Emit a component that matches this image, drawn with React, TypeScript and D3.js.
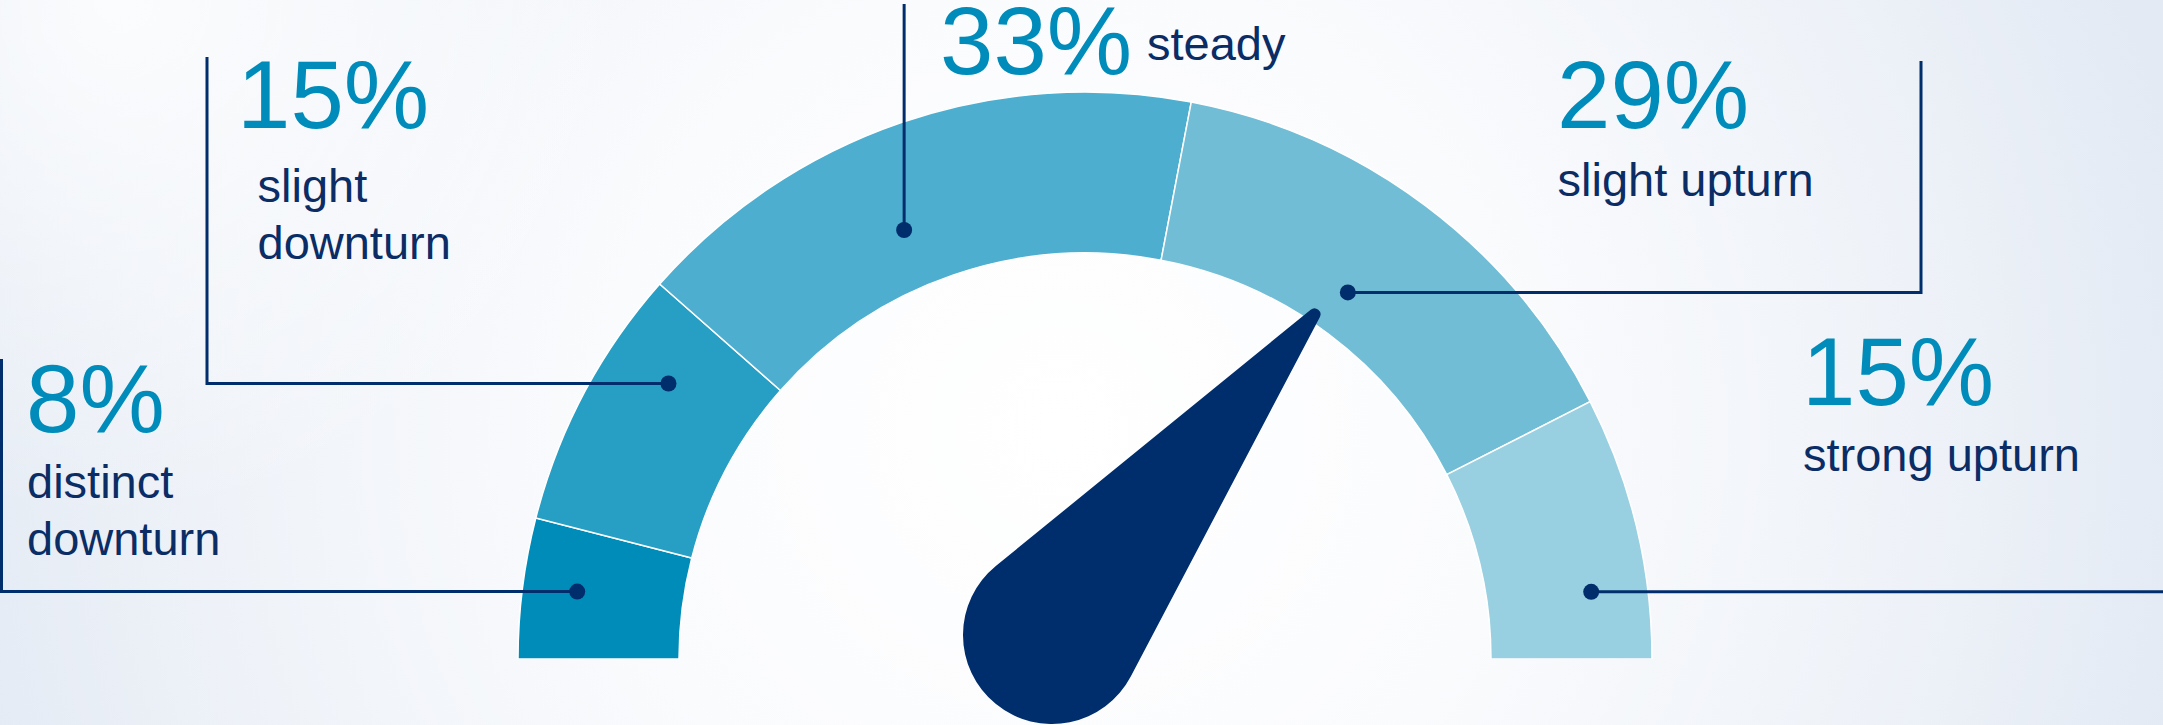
import { useMemo } from "react"
import * as d3 from "d3"

// gauge data
const categories = ["distinct downturn", "slight downturn", "steady", "slight upturn", "strong upturn"]
const shares = [8, 15, 33, 29, 15]
const shareLabels = ["8%", "15%", "33%", "29%", "15%"]
const segmentColors = ["#008cb8", "#279ec3", "#4eaecf", "#72bdd6", "#98cfe1"]

// where each leader line touches the gauge: position on the 0-100 scale and depth into the band (0 = inner, 1 = outer)
const anchorValues = [4.2, 18.6, 37.3, 69.8, 95.8]
const anchorDepths = [0.66, 0.58, 0.37, 0.28, 0.65]

// needle reading on the 0-100 scale
const needleValue = 68.7

const W = 2163
const H = 725
const cx = 1085
const cy = 659
const outerR = 567
const innerR = 406

const NAVY = "#002d6b"
const TEAL = "#008cba"
const LABEL = "#0b2d66"
const FONT = "'Liberation Sans', Arial, Helvetica, sans-serif"

// label layout (leader elbows + text blocks)
const layout = [
  { elbowX: 1.5, elbowY: 359, numX: 26, numY: 432, textX: 27, textY: 498, lines: ["distinct", "downturn"] },
  { elbowX: 207, elbowY: 57, numX: 237, numY: 128, textX: 257.5, textY: 202, lines: ["slight", "downturn"] },
  { elbowX: null, elbowY: 4, numX: 940, numY: 74, textX: 1147, textY: 60, lines: ["steady"] },
  { elbowX: 1921, elbowY: 61, numX: 1557, numY: 128, textX: 1557.5, textY: 196, lines: ["slight upturn"] },
  { elbowX: 2170, elbowY: null, numX: 1802, numY: 405, textX: 1803, textY: 471, lines: ["strong upturn"] },
]

export default function App() {
  const angle = d3.scaleLinear().domain([0, 100]).range([-Math.PI / 2, Math.PI / 2])
  const depth = d3.scaleLinear().domain([0, 1]).range([innerR, outerR])

  const polar = (a: number, r: number): [number, number] => [cx + r * Math.sin(a), cy - r * Math.cos(a)]

  const pie = d3
    .pie<number>()
    .sort(null)
    .startAngle(-Math.PI / 2)
    .endAngle(Math.PI / 2)
  const arcs = pie(shares)
  const arcGen = d3.arc<d3.PieArcDatum<number>>().innerRadius(innerR).outerRadius(outerR)

  // needle: round base blended into a small round tip
  const needlePath = useMemo(() => {
    const a = angle(needleValue)
    const [tx, ty] = polar(a, 414)
    const bx = cx - 33
    const by = cy - 24
    const R = 89
    const r = 6
    const dx = tx - bx
    const dy = ty - by
    const d = Math.hypot(dx, dy)
    const ux = dx / d
    const uy = dy / d
    const th = Math.acos((R - r) / d)
    const rot = (t: number): [number, number] => [
      ux * Math.cos(t) - uy * Math.sin(t),
      ux * Math.sin(t) + uy * Math.cos(t),
    ]
    const n1 = rot(th)
    const n2 = rot(-th)
    const p = d3.path()
    p.moveTo(bx + R * n1[0], by + R * n1[1])
    p.lineTo(tx + r * n1[0], ty + r * n1[1])
    p.arc(tx, ty, r, Math.atan2(n1[1], n1[0]), Math.atan2(n2[1], n2[0]), true)
    p.lineTo(bx + R * n2[0], by + R * n2[1])
    p.arc(bx, by, R, Math.atan2(n2[1], n2[0]), Math.atan2(n1[1], n1[0]), true)
    p.closePath()
    return p.toString()
  }, [])

  return (
    <>
      <style>{`body{margin:0;overflow:hidden}`}</style>
      <svg width={W} height={H} style={{ display: "block" }} fontFamily={FONT}>
        <defs>
          <radialGradient id="bg" gradientUnits="userSpaceOnUse" cx={1060} cy={430} r={1150}>
            <stop offset="0" stopColor="#ffffff" />
            <stop offset="0.4" stopColor="#fafbfd" />
            <stop offset="0.75" stopColor="#eef2f8" />
            <stop offset="1" stopColor="#e3eaf4" />
          </radialGradient>
          <radialGradient id="glow" gradientUnits="userSpaceOnUse" cx={120} cy={0} r={520}>
            <stop offset="0" stopColor="#ffffff" stopOpacity={0.85} />
            <stop offset="1" stopColor="#ffffff" stopOpacity={0} />
          </radialGradient>
        </defs>
        <rect width={W} height={H} fill="url(#bg)" />
        <rect width={W} height={H} fill="url(#glow)" />

        {/* gauge band */}
        <g transform={`translate(${cx},${cy})`}>
          {arcs.map((a, i) => (
            <path key={categories[i]} d={arcGen(a) || ""} fill={segmentColors[i]} stroke="#ffffff" strokeWidth={1.5} />
          ))}
        </g>
        {/* hide the stroke along the flat bottom */}
        <rect x={cx - outerR - 4} y={cy} width={outerR * 2 + 8} height={4} fill="url(#bg)" />

        {/* leader lines */}
        {anchorValues.map((v, i) => {
          const [x, y] = polar(angle(v), depth(anchorDepths[i]))
          const L = layout[i]
          const pts: [number, number][] = [[x, y]]
          if (L.elbowX !== null) pts.push([L.elbowX, y])
          if (L.elbowY !== null) pts.push([L.elbowX !== null ? L.elbowX : x, L.elbowY])
          return (
            <g key={"lead" + i}>
              <path d={d3.line()(pts) || ""} fill="none" stroke={NAVY} strokeWidth={3} />
              <circle cx={x} cy={y} r={8} fill={NAVY} />
            </g>
          )
        })}

        {/* needle */}
        <path d={needlePath} fill={NAVY} />

        {/* labels */}
        {shareLabels.map((s, i) => {
          const L = layout[i]
          return (
            <g key={"lab" + i}>
              <text x={L.numX} y={L.numY} fontSize={96} fill={TEAL}>
                {s}
              </text>
              {L.lines.map((t, j) => (
                <text key={j} x={L.textX} y={L.textY + j * 57} fontSize={47} fill={LABEL}>
                  {t}
                </text>
              ))}
            </g>
          )
        })}
      </svg>
    </>
  )
}
